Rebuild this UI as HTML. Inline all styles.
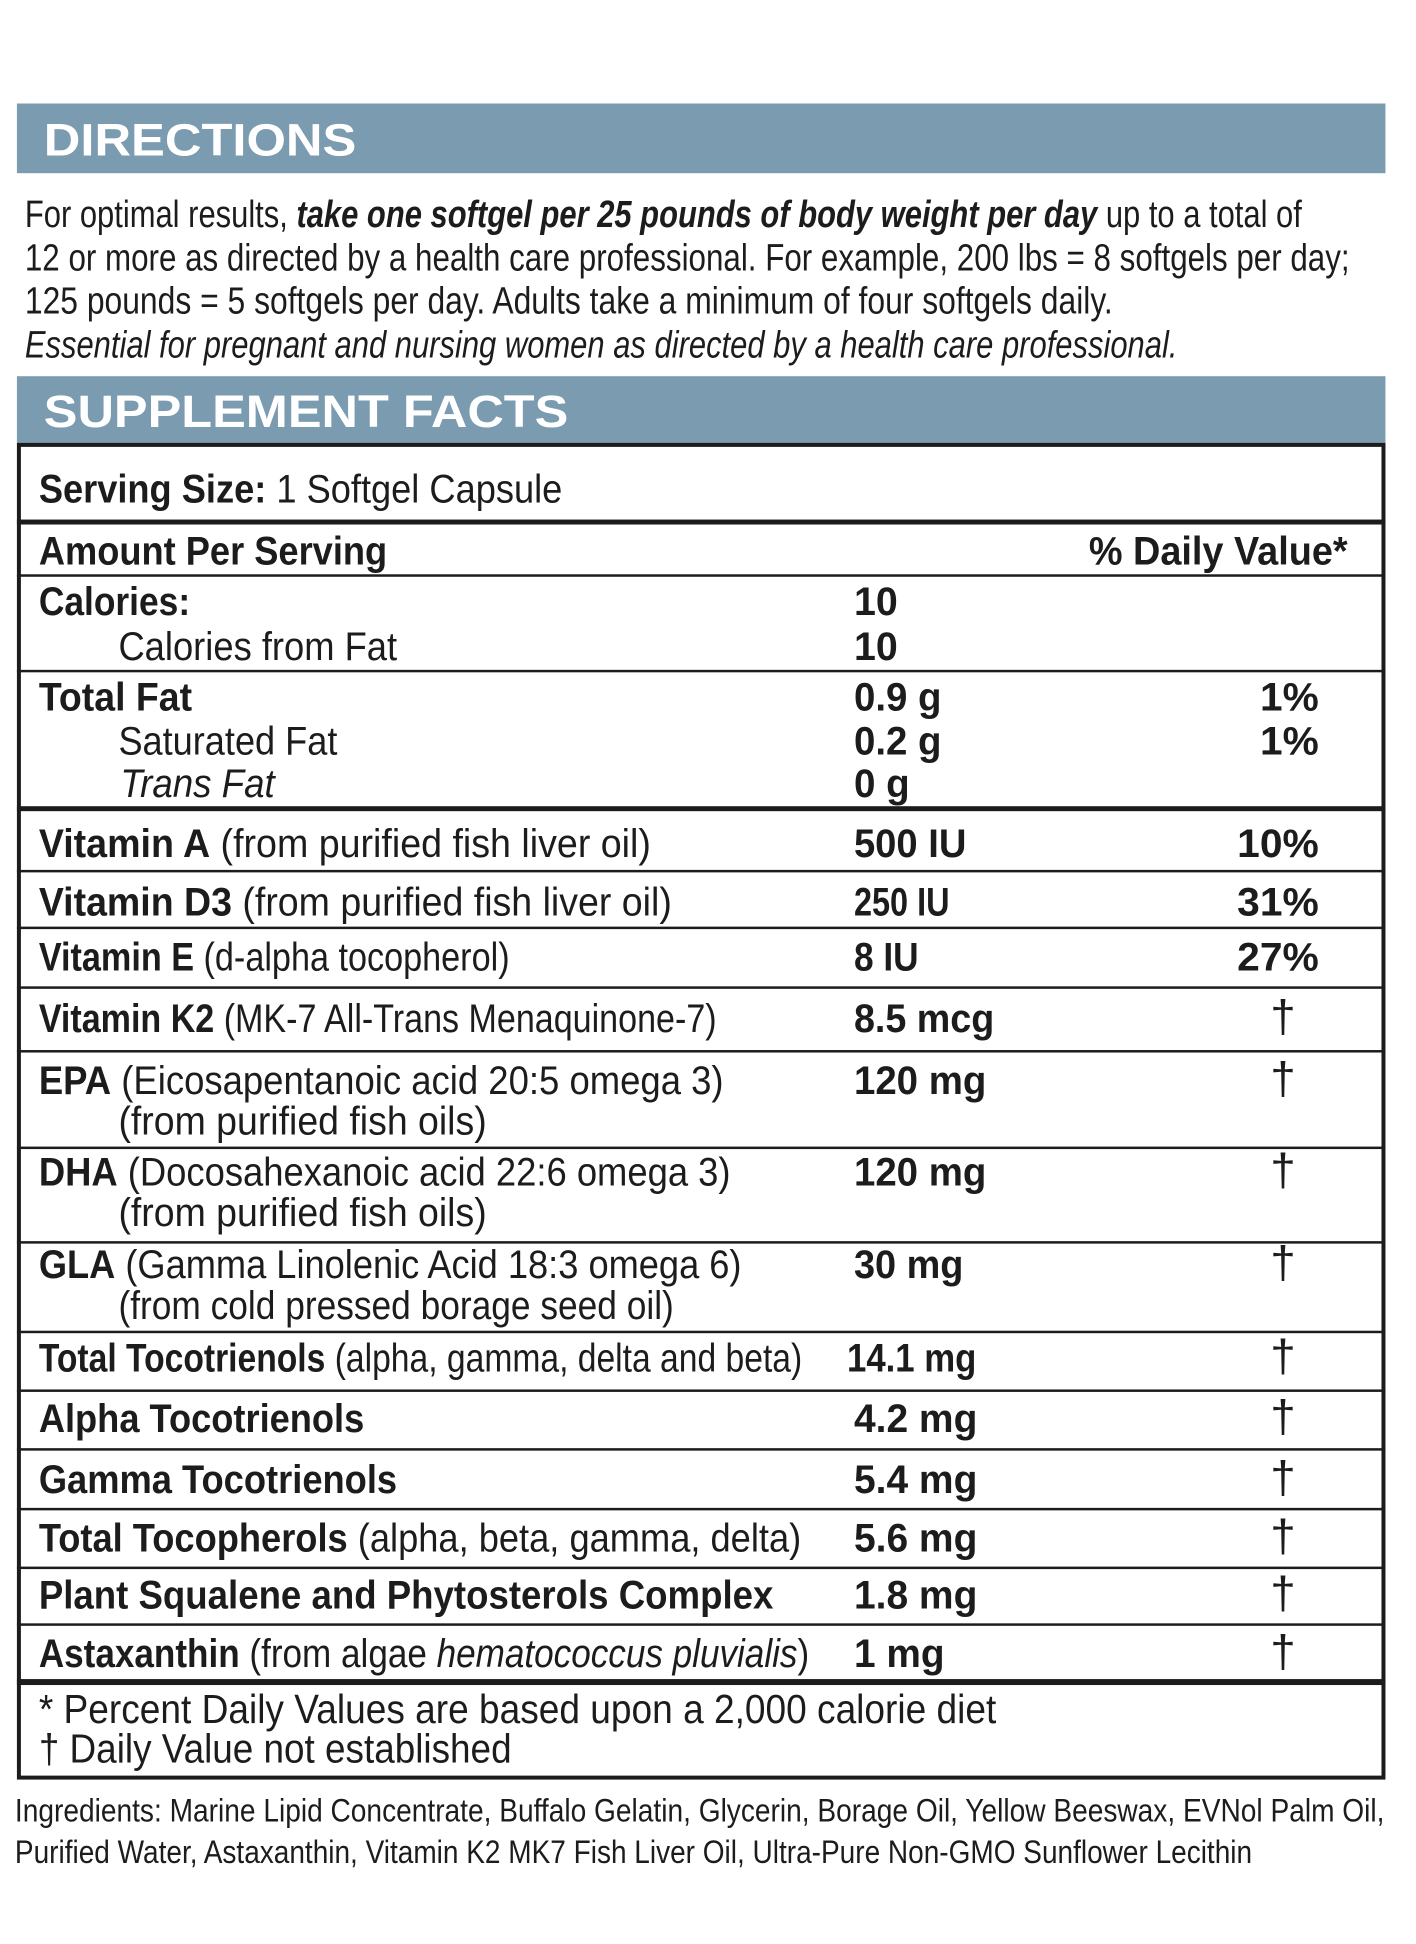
<!DOCTYPE html>
<html><head><meta charset="utf-8"><style>
html,body{margin:0;padding:0;background:#fff;}
svg{display:block;}
text{font-family:"Liberation Sans",Arial,sans-serif;fill:#1c1c1c;}
.b{font-weight:bold;}
.r{font-size:40px;}
.d{font-size:46px;}
</style></head><body>
<svg width="1416" height="1944" viewBox="0 0 1416 1944" xmlns="http://www.w3.org/2000/svg">
<g transform="scale(0.9953)">
<rect x="17" y="104" width="1375" height="70" fill="#7b9bb0"/>
<text x="44" y="156" class="b" style="font-size:46px;fill:#fff" textLength="314" lengthAdjust="spacingAndGlyphs">DIRECTIONS</text>

<g style="font-size:38px">
<text x="25" y="228" textLength="1283" lengthAdjust="spacingAndGlyphs">For optimal results, <tspan font-weight="bold" font-style="italic">take one softgel per 25 pounds of body weight per day</tspan> up to a total of</text>
<text x="25" y="272" textLength="1331" lengthAdjust="spacingAndGlyphs">12 or more as directed by a health care professional.  For example, 200 lbs = 8 softgels per day;</text>
<text x="25" y="315" textLength="1093" lengthAdjust="spacingAndGlyphs">125 pounds = 5 softgels per day.  Adults take a minimum of four softgels daily.</text>
<text x="25" y="359" font-style="italic" textLength="1158" lengthAdjust="spacingAndGlyphs">Essential for pregnant and nursing women as directed by a health care professional.</text>
</g>

<rect x="17" y="378" width="1375" height="69" fill="#7b9bb0"/>
<text x="44" y="429" class="b" style="font-size:46px;fill:#fff" textLength="527" lengthAdjust="spacingAndGlyphs">SUPPLEMENT FACTS</text>

<rect x="19" y="447" width="1371" height="1339" fill="none" stroke="#1c1c1c" stroke-width="4"/>
<g fill="#1c1c1c">
<rect x="17" y="522" width="1375" height="5"/>
<rect x="17" y="577" width="1375" height="2.5"/>
<rect x="17" y="673" width="1375" height="2.5"/>
<rect x="17" y="810" width="1375" height="5"/>
<rect x="17" y="874" width="1375" height="2.5"/>
<rect x="17" y="931" width="1375" height="2.5"/>
<rect x="17" y="991" width="1375" height="2.5"/>
<rect x="17" y="1055" width="1375" height="2.5"/>
<rect x="17" y="1152" width="1375" height="2.5"/>
<rect x="17" y="1247" width="1375" height="2.5"/>
<rect x="17" y="1337" width="1375" height="2.5"/>
<rect x="17" y="1396" width="1375" height="2.5"/>
<rect x="17" y="1455" width="1375" height="2.5"/>
<rect x="17" y="1515" width="1375" height="2.5"/>
<rect x="17" y="1574" width="1375" height="2.5"/>
<rect x="17" y="1631" width="1375" height="2.5"/>
<rect x="17" y="1687" width="1375" height="6"/>
</g>

<g class="r">
<text x="39" y="505" textLength="526" lengthAdjust="spacingAndGlyphs"><tspan font-weight="bold">Serving Size:</tspan> 1 Softgel Capsule</text>
<text x="39" y="567" class="b" textLength="350" lengthAdjust="spacingAndGlyphs">Amount Per Serving</text>
<text x="1094" y="567" class="b" textLength="260" lengthAdjust="spacingAndGlyphs">% Daily Value*</text>

<text x="39" y="618" class="b" textLength="152" lengthAdjust="spacingAndGlyphs">Calories:</text>
<text x="858" y="618" class="b" textLength="44" lengthAdjust="spacingAndGlyphs">10</text>
<text x="119" y="663" textLength="280" lengthAdjust="spacingAndGlyphs">Calories from Fat</text>
<text x="858" y="663" class="b" textLength="44" lengthAdjust="spacingAndGlyphs">10</text>

<text x="39" y="714" class="b" textLength="154" lengthAdjust="spacingAndGlyphs">Total Fat</text>
<text x="858" y="714" class="b" textLength="88" lengthAdjust="spacingAndGlyphs">0.9 g</text>
<text x="1266" y="714" class="b" textLength="59" lengthAdjust="spacingAndGlyphs">1%</text>
<text x="119" y="758" textLength="220" lengthAdjust="spacingAndGlyphs">Saturated Fat</text>
<text x="858" y="758" class="b" textLength="88" lengthAdjust="spacingAndGlyphs">0.2 g</text>
<text x="1266" y="758" class="b" textLength="59" lengthAdjust="spacingAndGlyphs">1%</text>
<text x="121" y="801" font-style="italic" textLength="155" lengthAdjust="spacingAndGlyphs">Trans Fat</text>
<text x="858" y="801" class="b" textLength="56" lengthAdjust="spacingAndGlyphs">0 g</text>

<text x="39" y="861" textLength="615" lengthAdjust="spacingAndGlyphs"><tspan font-weight="bold">Vitamin A</tspan> (from purified fish liver oil)</text>
<text x="858" y="861" class="b" textLength="113" lengthAdjust="spacingAndGlyphs">500 IU</text>
<text x="1243" y="861" class="b" textLength="82" lengthAdjust="spacingAndGlyphs">10%</text>

<text x="39" y="920" textLength="636" lengthAdjust="spacingAndGlyphs"><tspan font-weight="bold">Vitamin D3</tspan> (from purified fish liver oil)</text>
<text x="858" y="920" class="b" textLength="96" lengthAdjust="spacingAndGlyphs">250 IU</text>
<text x="1243" y="920" class="b" textLength="82" lengthAdjust="spacingAndGlyphs">31%</text>

<text x="39" y="975" textLength="473" lengthAdjust="spacingAndGlyphs"><tspan font-weight="bold">Vitamin E</tspan> (d-alpha tocopherol)</text>
<text x="858" y="975" class="b" textLength="65" lengthAdjust="spacingAndGlyphs">8 IU</text>
<text x="1243" y="975" class="b" textLength="82" lengthAdjust="spacingAndGlyphs">27%</text>

<text x="39" y="1037" textLength="681" lengthAdjust="spacingAndGlyphs"><tspan font-weight="bold">Vitamin K2</tspan> (MK-7 All-Trans Menaquinone-7)</text>
<text x="858" y="1037" class="b" textLength="141" lengthAdjust="spacingAndGlyphs">8.5 mcg</text>
<text x="1289" y="1037" class="d" text-anchor="middle">†</text>

<text x="39" y="1099" textLength="688" lengthAdjust="spacingAndGlyphs"><tspan font-weight="bold">EPA</tspan> (Eicosapentanoic acid 20:5 omega 3)</text>
<text x="119" y="1140" textLength="370" lengthAdjust="spacingAndGlyphs">(from purified fish oils)</text>
<text x="858" y="1099" class="b" textLength="133" lengthAdjust="spacingAndGlyphs">120 mg</text>
<text x="1289" y="1099" class="d" text-anchor="middle">†</text>

<text x="39" y="1191" textLength="695" lengthAdjust="spacingAndGlyphs"><tspan font-weight="bold">DHA</tspan> (Docosahexanoic acid 22:6 omega 3)</text>
<text x="119" y="1232" textLength="370" lengthAdjust="spacingAndGlyphs">(from purified fish oils)</text>
<text x="858" y="1191" class="b" textLength="133" lengthAdjust="spacingAndGlyphs">120 mg</text>
<text x="1289" y="1191" class="d" text-anchor="middle">†</text>

<text x="39" y="1284" textLength="706" lengthAdjust="spacingAndGlyphs"><tspan font-weight="bold">GLA</tspan> (Gamma Linolenic Acid 18:3 omega 6)</text>
<text x="119" y="1325" textLength="558" lengthAdjust="spacingAndGlyphs">(from cold pressed borage seed oil)</text>
<text x="858" y="1284" class="b" textLength="110" lengthAdjust="spacingAndGlyphs">30 mg</text>
<text x="1289" y="1284" class="d" text-anchor="middle">†</text>

<text x="39" y="1378" textLength="767" lengthAdjust="spacingAndGlyphs"><tspan font-weight="bold">Total Tocotrienols</tspan> (alpha, gamma, delta and beta)</text>
<text x="851" y="1378" class="b" textLength="130" lengthAdjust="spacingAndGlyphs">14.1 mg</text>
<text x="1289" y="1378" class="d" text-anchor="middle">†</text>

<text x="39" y="1439" class="b" textLength="327" lengthAdjust="spacingAndGlyphs">Alpha Tocotrienols</text>
<text x="858" y="1439" class="b" textLength="124" lengthAdjust="spacingAndGlyphs">4.2 mg</text>
<text x="1289" y="1439" class="d" text-anchor="middle">†</text>

<text x="39" y="1500" class="b" textLength="360" lengthAdjust="spacingAndGlyphs">Gamma Tocotrienols</text>
<text x="858" y="1500" class="b" textLength="124" lengthAdjust="spacingAndGlyphs">5.4 mg</text>
<text x="1289" y="1500" class="d" text-anchor="middle">†</text>

<text x="39" y="1559" textLength="766" lengthAdjust="spacingAndGlyphs"><tspan font-weight="bold">Total Tocopherols</tspan> (alpha, beta, gamma, delta)</text>
<text x="858" y="1559" class="b" textLength="124" lengthAdjust="spacingAndGlyphs">5.6 mg</text>
<text x="1289" y="1559" class="d" text-anchor="middle">†</text>

<text x="39" y="1616" class="b" textLength="738" lengthAdjust="spacingAndGlyphs">Plant Squalene and Phytosterols Complex</text>
<text x="858" y="1616" class="b" textLength="124" lengthAdjust="spacingAndGlyphs">1.8 mg</text>
<text x="1289" y="1616" class="d" text-anchor="middle">†</text>

<text x="39" y="1675" textLength="774" lengthAdjust="spacingAndGlyphs"><tspan font-weight="bold">Astaxanthin</tspan> (from algae <tspan font-style="italic">hematococcus pluvialis</tspan>)</text>
<text x="858" y="1675" class="b" textLength="91" lengthAdjust="spacingAndGlyphs">1 mg</text>
<text x="1289" y="1675" class="d" text-anchor="middle">†</text>
</g>

<g style="font-size:41px">
<text x="39" y="1731" textLength="962" lengthAdjust="spacingAndGlyphs">* Percent Daily Values are based upon a 2,000 calorie diet</text>
<text x="39" y="1771" textLength="475" lengthAdjust="spacingAndGlyphs">† Daily Value not established</text>
</g>

<g style="font-size:33px">
<text x="15" y="1830" textLength="1376" lengthAdjust="spacingAndGlyphs">Ingredients: Marine Lipid Concentrate, Buffalo Gelatin, Glycerin, Borage Oil, Yellow Beeswax, EVNol Palm Oil,</text>
<text x="15" y="1872" textLength="1243" lengthAdjust="spacingAndGlyphs">Purified Water, Astaxanthin, Vitamin K2 MK7 Fish Liver Oil, Ultra-Pure Non-GMO Sunflower Lecithin</text>
</g>
</g>
</svg>
</body></html>
